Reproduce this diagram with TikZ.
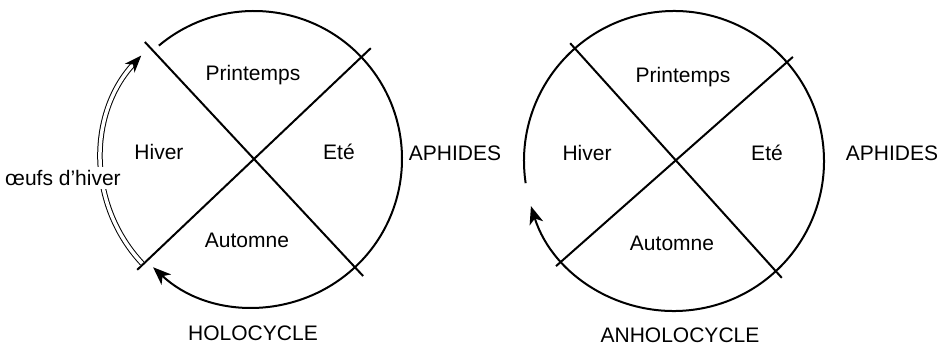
\documentclass[tikz,border=0pt]{standalone}
\usepackage{fontspec}
\setmainfont{Liberation Sans}
\usetikzlibrary{calc,arrows.meta}
\begin{document}
\begin{tikzpicture}[x=1pt,y=1pt,
  thick line/.style={line width=2pt},
  lbl/.style={font=\fontsize{21}{25}\selectfont, inner sep=1pt},
  arr/.style={-{Stealth[length=18pt,width=14pt,inset=5pt]}}]
\useasboundingbox (0,0) rectangle (946,348);
% left diagram
\coordinate (cL) at (254,189);
\coordinate (L1a) at ($(cL)+(133:160)$);
\coordinate (L1b) at ($(cL)+(-47:160)$);
\coordinate (L2a) at ($(cL)+(43.5:161)$);
\coordinate (L2b) at ($(cL)+(223.5:161)$);
\draw[thick line] (L1a) -- (L1b);
\draw[thick line] (L2a) -- (L2b);
\draw[thick line, arr] ($(cL)+(130:148)$) arc[start angle=130, end angle=-133, radius=148];
\draw[line width=1pt, double distance=3.5pt, -{Stealth[length=17pt,width=13pt,inset=5pt]}]
  ($(cL)+(223:153)$) arc[start angle=223, end angle=137.5, radius=153];
\node[lbl] (pL) at (253,273) {Printemps};
\node[lbl] (hL) at (159,196) {Hiver};
\node[lbl] (eL) at (339,196) {Eté};
\node[lbl] (aL) at (247,108) {Automne};
\node[lbl] (apL) at (455,195) {APHIDES};
\node[lbl] (hoL) at (253,15) {HOLOCYCLE};
\node[lbl, fill=white, inner sep=3pt] (oe) at (63,170) {œufs d’hiver};
% right diagram
\coordinate (cR) at (674,187);
\coordinate (R1a) at ($(cR)+(131.4:157)$);
\coordinate (R1b) at ($(cR)+(-47.3:159)$);
\coordinate (R2a) at ($(cR)+(41.2:158)$);
\coordinate (R2b) at ($(cR)+(221.7:158)$);
\draw[thick line] (R1a) -- (R1b);
\draw[thick line] (R2a) -- (R2b);
\draw[thick line, arr] ($(cR)+(188.5:150)$) arc[start angle=188.5, end angle=-162.5, radius=150];
\node[lbl] (pR) at (683,271) {Printemps};
\node[lbl] (hR) at (587,195) {Hiver};
\node[lbl] (eR) at (767,195) {Eté};
\node[lbl] (aR) at (672,105) {Automne};
\node[lbl] (apR) at (892,195) {APHIDES};
\node[lbl] (anR) at (680,13) {ANHOLOCYCLE};
\end{tikzpicture}
\end{document}
